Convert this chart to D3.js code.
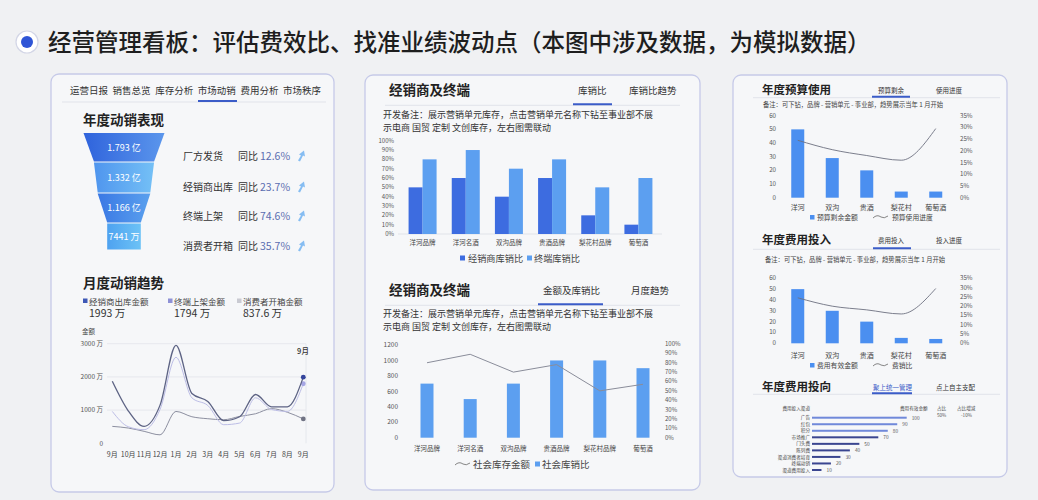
<!DOCTYPE html>
<html>
<head>
<meta charset="utf-8">
<script src="https://cdn.jsdelivr.net/npm/d3@7"></script>
<style>
  body { margin: 0; background: #f0f1f3; }
  svg { display: block; font-family: "Noto Sans CJK SC", "Noto Sans", sans-serif; }
</style>
</head>
<body>
<svg id="chart" width="1038" height="500"></svg>
<script>
// ---- data ----
var funnelLabels = ['1.793 亿', '1.332 亿', '1.166 亿', '7441 万']
var funnelValues = [1.793, 1.332, 1.166, 0.7441]
var funnelStages = ['厂方发货', '经销商出库', '终端上架', '消费者开箱']
var funnelYoy = ['12.6%', '23.7%', '74.6%', '35.7%']

var months = ['9月', '10月', '11月', '12月', '1月', '2月', '3月', '4月', '5月', '6月', '7月', '8月', '9月']
var dealerOut = [1870, 980, 510, 1150, 2950, 1500, 1260, 680, 800, 1470, 1100, 1100, 1993]
var terminalShelf = [960, 500, 410, 1020, 2590, 1370, 1140, 560, 610, 1370, 1020, 960, 1794]
var consumerOpen = [510, 460, 360, 255, 960, 800, 740, 710, 810, 890, 1045, 935, 735]
var trendTicks = [0, 1000, 2000, 3000]
var trendTickLabels = ['0', '1000 万', '2000 万', '3000 万']
var trendLegend = ['经销商出库金额', '终端上架金额', '消费者开箱金额']
var trendTotals = ['1993 万', '1794 万', '837.6 万']

var brands = ['洋河品牌', '洋河名酒', '双沟品牌', '贵酒品牌', '梨花村品牌', '葡萄酒']
var dealerRatio = [50, 60, 40, 60, 20, 10]
var terminalRatio = [80, 90, 70, 80, 50, 60]
var socialStock = [700, 500, 700, 1000, 1000, 900]
var socialRatio = [80, 89, 70, 78, 50, 57]

var units = ['洋河', '双沟', '贵酒', '梨花村', '葡萄酒']
var budgetLeft = [50, 29, 20, 4.5, 4.5]
var budgetProgress = [24.5, 20.5, 18, 16, 29.5]
var costInput = [50, 30, 20, 5, 4]
var costRatio = [24.5, 20, 18, 15.8, 29.5]

var channels = ['广告', '红包', '积分', '市场推广', '门头费', '陈列费', '渠道消费者培育', '终端动销', '渠道费用投入']
var channelValues = [100, 90, 80, 70, 50, 40, 30, 20, 10]

var note1 = '开发备注：展示营销单元库存，点击营销单元名称下钻至事业部不展'
var note2 = '示电商 国贸 定制 文创库存，左右图需联动'
var note3 = '备注：可下钻，品牌 - 营销单元 - 事业部，趋势展示当年 1 月开始'

// ---- helpers ----
var svg = d3.select('#chart')
var BLUE = '#3b5cc8'
var DARKBAR = '#3d6ce0'
var LIGHTBAR = '#5c9ff0'

function text(g, x, y, s, size, color, anchor, weight) {
  return g.append('text')
    .attr('x', x).attr('y', y)
    .attr('font-size', size + 'px')
    .attr('fill', color || '#333')
    .attr('text-anchor', anchor || 'start')
    .attr('font-weight', weight || 400)
    .text(s)
}

function hline(g, x1, x2, y, color, w) {
  g.append('line').attr('x1', x1).attr('x2', x2).attr('y1', y).attr('y2', y)
    .attr('stroke', color).attr('stroke-width', w || 1)
}

function legendWave(g, x, y) {
  g.append('path')
    .attr('d', 'M' + x + ',' + (y + 1) + ' Q' + (x + 4) + ',' + (y - 3) + ' ' + (x + 8) + ',' + y +
      ' Q' + (x + 11) + ',' + (y + 2) + ' ' + (x + 15) + ',' + (y - 1))
    .attr('fill', 'none').attr('stroke', '#777').attr('stroke-width', 0.9)
}

// page background + header
svg.append('rect').attr('width', 1038).attr('height', 500).attr('fill', '#f0f1f3')
svg.append('circle').attr('cx', 27).attr('cy', 42).attr('r', 11)
  .attr('fill', '#fff').attr('stroke', '#d3d6e6').attr('stroke-width', 1.2)
svg.append('circle').attr('cx', 27).attr('cy', 42).attr('r', 6).attr('fill', '#2f55d6')
text(svg, 48, 50.5, '经营管理看板：评估费效比、找准业绩波动点（本图中涉及数据，为模拟数据）', 23.5, '#1e1e1e', 'start', 500)

// panels
;[[51, 74, 283, 418], [365, 75, 335, 415], [733, 75, 274, 402]].forEach(function (p) {
  svg.append('rect').attr('x', p[0]).attr('y', p[1]).attr('width', p[2]).attr('height', p[3])
    .attr('rx', 8).attr('fill', '#f6f7f9').attr('stroke', '#c6cae8').attr('stroke-width', 1.3)
})

// ================= panel 1 =================
var p1 = svg.append('g')
var tabNames = ['运营日报', '销售总览', '库存分析', '市场动销', '费用分析', '市场秩序']
tabNames.forEach(function (t, i) {
  text(p1, 70 + i * 42.6, 94, t, 9.5, '#333')
})
hline(p1, 62, 326, 102, '#e1e3ea', 1)
hline(p1, 198, 237, 101, BLUE, 2)

text(p1, 83, 125, '年度动销表现', 13.5, '#222', 'start', 700)

// funnel
var defs = svg.append('defs')
var funnelColors = [['#2f63dc', '#5b96ec'], ['#4f95ee', '#74c0f6'], ['#3a78e4', '#5aa0ee'], ['#4ea2f0', '#6cc2f6']]
funnelColors.forEach(function (c, i) {
  var gr = defs.append('linearGradient').attr('id', 'fg' + i)
  gr.append('stop').attr('offset', '0%').attr('stop-color', c[0])
  gr.append('stop').attr('offset', '100%').attr('stop-color', c[1])
})
var funnelY = [133, 162, 193, 223, 250]
var fw = d3.scaleLinear().domain([0, funnelValues[0]]).range([0, 81])
var fcx = 124
funnelValues.forEach(function (v, i) {
  var top = fw(v) / 2
  var bot = i < funnelValues.length - 1 ? fw(funnelValues[i + 1]) / 2 : top
  var y0 = funnelY[i] + (i ? 0.6 : 0), y1 = funnelY[i + 1] - 0.6
  p1.append('path')
    .attr('d', 'M' + (fcx - top) + ',' + y0 + 'L' + (fcx + top) + ',' + y0 +
      'L' + (fcx + bot) + ',' + y1 + 'L' + (fcx - bot) + ',' + y1 + 'Z')
    .attr('fill', 'url(#fg' + i + ')')
  text(p1, fcx, (y0 + y1) / 2 + 3.3, funnelLabels[i], 9, '#fff', 'middle')
})

var rowY = [159.5, 190.5, 219.5, 249.5]
funnelStages.forEach(function (s, i) {
  var y = rowY[i]
  text(p1, 183, y, s, 10, '#333')
  text(p1, 238, y, '同比', 10, '#333')
  text(p1, 260, y, funnelYoy[i], 10.5, '#5a6db0')
  var ax = 298, ay = y - 4
  p1.append('path')
    .attr('d', 'M' + ax + ',' + (ay + 5) + 'L' + (ax + 3) + ',' + ay + 'L' + (ax + 1) + ',' + (ay - 1) +
      'L' + (ax + 6) + ',' + (ay - 5) + 'L' + (ax + 7) + ',' + (ay + 1) + 'L' + (ax + 5) + ',' + ay +
      'L' + (ax + 2) + ',' + (ay + 6) + 'Z')
    .attr('fill', '#86bdf2')
})

// monthly trend
text(p1, 83, 288, '月度动销趋势', 13.5, '#222', 'start', 700)
var trendColors = ['#3e58b6', '#8e91d6', '#c9cad2']
var legX = [83, 168, 237]
trendLegend.forEach(function (s, i) {
  p1.append('rect').attr('x', legX[i]).attr('y', 298.5).attr('width', 4.5).attr('height', 4.5)
    .attr('fill', trendColors[i])
  text(p1, legX[i] + 6, 304.5, s, 8.5, '#444')
  text(p1, legX[i] + 6, 316.5, trendTotals[i], 10.5, '#333')
})
text(p1, 82, 334, '金额', 6.5, '#444')

var ty = d3.scaleLinear().domain([0, 3000]).range([443.3, 343.7])
var tx = d3.scalePoint().domain(d3.range(months.length)).range([112.3, 303.3])
trendTicks.forEach(function (t, i) {
  if (t > 0) hline(p1, 107, 306, ty(t), '#e2e4eb', 0.8)
  text(p1, 103, ty(t) + 2.2, trendTickLabels[i], 6.5, '#555', 'end')
})
p1.append('line').attr('x1', 306).attr('x2', 306).attr('y1', 343.7).attr('y2', 443.3)
  .attr('stroke', '#e2e4eb').attr('stroke-width', 0.8)
months.forEach(function (m, i) {
  text(p1, tx(i), 456.5, m, 7, '#444', 'middle')
})
var trendLine = d3.line().x(function (d, i) { return tx(i) }).y(function (d) { return ty(d) })
  .curve(d3.curveMonotoneX)
var seriesStyle = [
  { data: consumerOpen, color: '#8c8fa0', width: 1, dot: '#707384' },
  { data: terminalShelf, color: '#bcbde6', width: 1, dot: '#a6a6e4' },
  { data: dealerOut, color: '#5d6384', width: 1.3, dot: '#34449c' }
]
seriesStyle.forEach(function (s) {
  p1.append('path').datum(s.data).attr('d', trendLine)
    .attr('fill', 'none').attr('stroke', s.color).attr('stroke-width', s.width)
  var last = s.data.length - 1
  p1.append('circle').attr('cx', tx(last)).attr('cy', ty(s.data[last])).attr('r', 2.4).attr('fill', s.dot)
})
text(p1, 303, 354, months[months.length - 1], 7.5, '#333', 'middle', 500)

// ================= panel 2 =================
var p2 = svg.append('g')

function panelHead(g, title, tabs, tabX, ul, y, opts) {
  opts = opts || {}
  text(g, opts.titleX || 389, y + 5, title, opts.titleSize || 13.5, '#222', 'start', 700)
  tabs.forEach(function (t, i) {
    text(g, tabX[i], y + 3.5, t, opts.tabSize || 9.5, (i === 0 && opts.activeColor) || '#333')
  })
  hline(g, opts.sepX1 || 385, opts.sepX2 || 680, ul[2] + 1, '#e1e3ea', 1)
  hline(g, ul[0], ul[1], ul[2], BLUE, 2)
}

// top: 库销比
panelHead(p2, '经销商及终端', ['库销比', '库销比趋势'], [578, 629], [573, 612, 104.3], 90)
text(p2, 383, 117.5, note1, 9, '#333')
text(p2, 383, 130.5, note2, 9, '#333')

var ry = d3.scaleLinear().domain([0, 100]).range([234, 140.7])
var bx = d3.scaleBand().domain(brands).range([401, 660])
d3.range(0, 101, 10).forEach(function (t) {
  text(p2, 394, ry(t) + 2, t + '%', 6, '#555', 'end')
})
hline(p2, 398, 662, ry(0), '#dcdee6', 0.8)
brands.forEach(function (b, i) {
  var c = bx(b) + bx.bandwidth() / 2
  p2.append('rect').attr('x', c - 14).attr('y', ry(dealerRatio[i])).attr('width', 14)
    .attr('height', ry(0) - ry(dealerRatio[i])).attr('fill', DARKBAR)
  p2.append('rect').attr('x', c).attr('y', ry(terminalRatio[i])).attr('width', 14)
    .attr('height', ry(0) - ry(terminalRatio[i])).attr('fill', LIGHTBAR)
  text(p2, c, 245, b, 6.5, '#444', 'middle')
})
p2.append('rect').attr('x', 460).attr('y', 255.5).attr('width', 5).attr('height', 5).attr('fill', DARKBAR)
text(p2, 468, 261.5, '经销商库销比', 9.2, '#444')
p2.append('rect').attr('x', 527).attr('y', 255.5).attr('width', 5).attr('height', 5).attr('fill', LIGHTBAR)
text(p2, 534, 261.5, '终端库销比', 9.2, '#444')

// bottom: 金额及库销比
panelHead(p2, '经销商及终端', ['金额及库销比', '月度趋势'], [543, 631], [538, 603, 304.3], 290)
text(p2, 383, 316.5, note1, 9, '#333')
text(p2, 383, 329.5, note2, 9, '#333')

var ly = d3.scaleLinear().domain([0, 1200]).range([437.7, 345])
var rpy = d3.scaleLinear().domain([0, 100]).range([437.7, 344])
var bx2 = d3.scaleBand().domain(brands).range([405.4, 664.6])
d3.range(0, 1201, 200).forEach(function (t) {
  text(p2, 398, ly(t) + 2.2, t, 6.5, '#555', 'end')
})
d3.range(0, 101, 10).forEach(function (t) {
  text(p2, 665, rpy(t) + 2, t + '%', 6, '#555')
})
brands.forEach(function (b, i) {
  var c = bx2(b) + bx2.bandwidth() / 2
  p2.append('rect').attr('x', c - 6.5).attr('y', ly(socialStock[i])).attr('width', 13)
    .attr('height', ly(0) - ly(socialStock[i])).attr('fill', LIGHTBAR)
  text(p2, c, 450.5, b, 6.5, '#444', 'middle')
})
p2.append('path').datum(socialRatio)
  .attr('d', d3.line().x(function (d, i) { return bx2(brands[i]) + bx2.bandwidth() / 2 })
    .y(function (d) { return rpy(d) }))
  .attr('fill', 'none').attr('stroke', '#8a8d9a').attr('stroke-width', 1)
legendWave(p2, 455, 464)
text(p2, 473, 467.5, '社会库存金额', 9.5, '#444')
p2.append('rect').attr('x', 535).attr('y', 461.5).attr('width', 5).attr('height', 5).attr('fill', LIGHTBAR)
text(p2, 542, 467.5, '社会库销比', 9.5, '#444')

// ================= panel 3 =================
var p3 = svg.append('g')
var ux = d3.scaleBand().domain(units).range([780.5, 953])

function comboChart(g, cfg) {
  var yl = d3.scaleLinear().domain([0, 60]).range([cfg.y0, cfg.y1])
  var yr = d3.scaleLinear().domain([0, 35]).range([cfg.y0, cfg.y1])
  d3.range(0, 61, 10).forEach(function (t) {
    text(g, 776, yl(t) + 2, t, 6.2, '#555', 'end')
  })
  d3.range(0, 36, 5).forEach(function (t) {
    text(g, 960, yr(t) + 2, t + '%', 6.2, '#555')
  })
  units.forEach(function (u, i) {
    var c = ux(u) + ux.bandwidth() / 2
    g.append('rect').attr('x', c - 6.5).attr('y', yl(cfg.bars[i])).attr('width', 13)
      .attr('height', yl(0) - yl(cfg.bars[i])).attr('fill', '#4b8ff0')
    text(g, c, cfg.labelY, u, 7, '#444', 'middle')
  })
  g.append('path').datum(cfg.line)
    .attr('d', d3.line().x(function (d, i) { return ux(units[i]) + ux.bandwidth() / 2 })
      .y(function (d) { return yr(d) }).curve(d3.curveMonotoneX))
    .attr('fill', 'none').attr('stroke', '#6d7080').attr('stroke-width', 0.9)
  g.append('rect').attr('x', 810).attr('y', cfg.legendY - 4.5).attr('width', 4.5).attr('height', 4.5)
    .attr('fill', '#4b8ff0')
  text(g, 817, cfg.legendY, cfg.legend[0], 6.8, '#444')
  legendWave(g, 873, cfg.legendY - 2.5)
  text(g, 892, cfg.legendY, cfg.legend[1], 6.8, '#444')
}

var p3opts = { titleX: 762, titleSize: 11.5, tabSize: 6.5, sepX1: 753, sepX2: 1000 }
panelHead(p3, '年度预算使用', ['预算剩余', '使用进度'], [878, 936], [872, 910, 96.7], 89, p3opts)
text(p3, 763, 106.5, note3, 6.3, '#444')
comboChart(p3, { y0: 197.7, y1: 115.7, bars: budgetLeft, line: budgetProgress, labelY: 210,
  legendY: 219.5, legend: ['预算剩余金额', '预算使用进度'] })

panelHead(p3, '年度费用投入', ['费用投入', '投入进度'], [878, 936], [873, 911, 248.3], 239, p3opts)
text(p3, 765, 261.5, note3, 6.3, '#444')
comboChart(p3, { y0: 343.3, y1: 278.3, bars: costInput, line: costRatio, labelY: 357.5,
  legendY: 367.5, legend: ['费用有效金额', '费销比'] })

var p3b = Object.assign({}, p3opts, { activeColor: BLUE })
panelHead(p3, '年度费用投向', ['聚上统一管理', '点上自主支配'], [873, 936], [872, 912, 393.3], 386, p3b)
text(p3, 810, 410, '费用投入渠道', 4.6, '#444', 'end')
text(p3, 900, 410, '费用有效金额', 4.6, '#444')
text(p3, 937, 410, '占比', 4.6, '#444')
text(p3, 957, 410, '占比增减', 4.6, '#444')
text(p3, 937, 417, '50%', 4.6, '#555')
text(p3, 961, 417, '-10%', 4.6, '#555')
var cx3 = d3.scaleLinear().domain([0, 100]).range([812, 906.7])
var cy3 = d3.scalePoint().domain(channels).range([417.7, 470])
channels.forEach(function (c, i) {
  var y = cy3(c)
  text(p3, 810, y + 1.6, c, 4.6, '#444', 'end')
  p3.append('rect').attr('x', cx3(0)).attr('y', y - 1).attr('width', cx3(channelValues[i]) - cx3(0))
    .attr('height', 2).attr('fill', i < 3 ? '#7089da' : '#3a4590')
  text(p3, cx3(channelValues[i]) + 5, y + 1.8, channelValues[i], 4.8, '#555')
})
</script>
</body>
</html>
